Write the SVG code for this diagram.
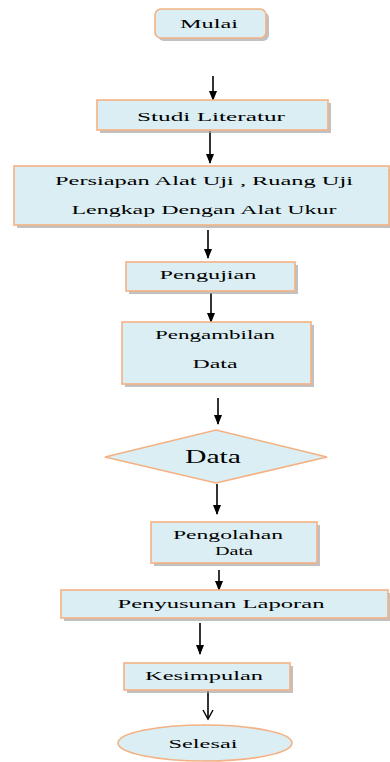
<svg xmlns="http://www.w3.org/2000/svg" width="390" height="762" viewBox="0 0 390 762">
<style>
.box{fill:#daeef3;stroke:#f4b183;stroke-width:1.6}
.sh{fill:#a6a6a6;opacity:0.7}
.t{font-size:13px;fill:#000;text-anchor:middle}
.c{stroke:#000;stroke-width:1.6;fill:none}
</style>
<defs>
<marker id="ah" markerWidth="10" markerHeight="8" refX="9" refY="4" orient="auto" markerUnits="userSpaceOnUse">
<path d="M0,0 L10,4 L0,8 Z" fill="#000"/>
</marker>
<marker id="ao" markerWidth="12" markerHeight="12" refX="10" refY="6" orient="auto" markerUnits="userSpaceOnUse">
<path d="M1,1 L10,6 L1,11" fill="none" stroke="#000" stroke-width="1.4"/>
</marker>
</defs>
<rect width="390" height="762" fill="#fff"/>
<g id="connectors">
<line class="c" x1="213" y1="76" x2="213" y2="100" marker-end="url(#ah)"/>
<line class="c" x1="210" y1="131" x2="210" y2="163" marker-end="url(#ah)" stroke="#555"/>
<line class="c" x1="208" y1="230" x2="208" y2="258" marker-end="url(#ah)"/>
<line class="c" x1="211" y1="293" x2="211" y2="322" marker-end="url(#ah)"/>
<line class="c" x1="218" y1="398" x2="218" y2="424" marker-end="url(#ah)"/>
<line class="c" x1="217" y1="484" x2="217" y2="514" marker-end="url(#ah)"/>
<line class="c" x1="219" y1="570" x2="219" y2="590" marker-end="url(#ah)"/>
<line class="c" x1="200" y1="623" x2="200" y2="654" marker-end="url(#ah)"/>
<line class="c" x1="208" y1="691" x2="208" y2="719" marker-end="url(#ao)"/>
</g>
<g font-family="Liberation Serif, serif">
<g id="mulai">
<rect class="sh" x="158" y="12" width="111" height="29" rx="6"/>
<rect class="box" x="155" y="9" width="111" height="29" rx="6"/>
<text class="t" x="209" y="28" textLength="58" lengthAdjust="spacingAndGlyphs">Mulai</text>
</g>
<g id="studi">
<rect class="sh" x="100" y="103" width="231" height="30"/>
<rect class="box" x="97" y="100" width="231" height="30"/>
<text class="t" x="211" y="121" textLength="148" lengthAdjust="spacingAndGlyphs">Studi  Literatur</text>
</g>
<g id="persiapan">
<rect class="sh" x="17" y="169" width="375" height="59"/>
<rect class="box" x="14" y="166" width="375" height="59"/>
<text class="t" x="204" y="185" textLength="298" lengthAdjust="spacingAndGlyphs">Persiapan Alat Uji , Ruang Uji</text>
<text class="t" x="204" y="214" textLength="265" lengthAdjust="spacingAndGlyphs">Lengkap Dengan Alat Ukur</text>
</g>
<g id="pengujian">
<rect class="sh" x="129" y="265" width="169" height="29"/>
<rect class="box" x="126" y="262" width="169" height="29"/>
<text class="t" x="208" y="279" textLength="97" lengthAdjust="spacingAndGlyphs">Pengujian</text>
</g>
<g id="pengambilan">
<rect class="sh" x="125" y="325" width="189" height="62"/>
<rect class="box" x="122" y="322" width="189" height="62"/>
<text class="t" x="215" y="339" textLength="120" lengthAdjust="spacingAndGlyphs">Pengambilan</text>
<text class="t" x="215" y="368" textLength="45" lengthAdjust="spacingAndGlyphs">Data</text>
</g>
<g id="data">
<polygon points="216,430 327,457 216,483 105,457" class="box" stroke-width="2"/>
<text class="t" x="213" y="463" style="font-size:19px" textLength="56" lengthAdjust="spacingAndGlyphs">Data</text>
</g>
<g id="pengolahan">
<rect class="sh" x="154" y="525" width="166" height="41"/>
<rect class="box" x="151" y="522" width="166" height="41"/>
<text class="t" x="228" y="539" textLength="110" lengthAdjust="spacingAndGlyphs">Pengolahan</text>
<text class="t" x="234" y="555" textLength="38" lengthAdjust="spacingAndGlyphs">Data</text>
</g>
<g id="penyusunan">
<rect class="sh" x="64" y="593" width="327" height="28"/>
<rect class="box" x="61" y="590" width="327" height="28"/>
<text class="t" x="221" y="608" textLength="207" lengthAdjust="spacingAndGlyphs">Penyusunan  Laporan</text>
</g>
<g id="kesimpulan">
<rect class="sh" x="127" y="666" width="166" height="27"/>
<rect class="box" x="124" y="663" width="166" height="27"/>
<text class="t" x="204" y="680" textLength="118" lengthAdjust="spacingAndGlyphs">Kesimpulan</text>
</g>
<g id="selesai">
<ellipse class="box" cx="205" cy="743" rx="87" ry="18" stroke-width="2"/>
<text class="t" x="203" y="748" textLength="69" lengthAdjust="spacingAndGlyphs">Selesai</text>
</g>
</g>
</svg>
